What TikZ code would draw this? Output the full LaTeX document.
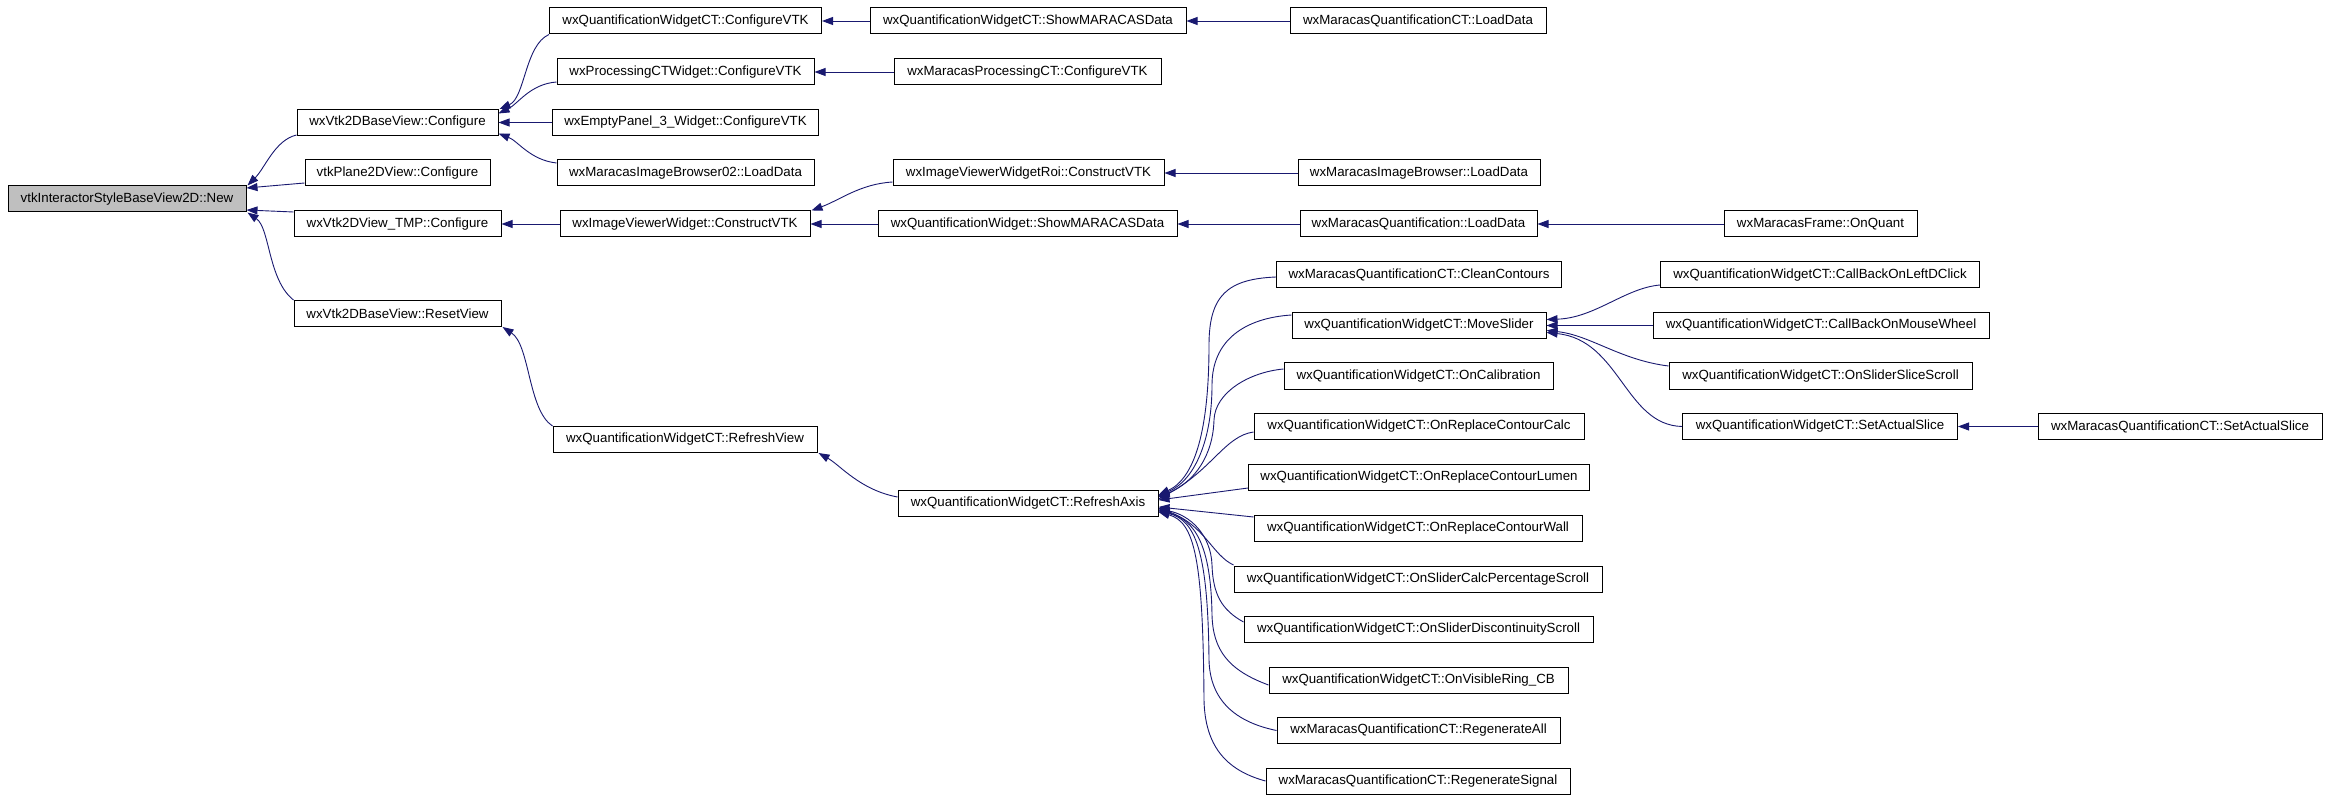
\documentclass[tikz,border=0pt]{standalone}
\usepackage{fontspec}
\setmainfont{Liberation Sans}
\usetikzlibrary{arrows.meta,calc}
\definecolor{edgeblue}{RGB}{25,25,112}
\definecolor{rootgray}{RGB}{191,191,191}
\begin{document}
\begin{tikzpicture}[x=1pt,y=-1pt,
  box/.style={draw=black, line width=1pt, inner sep=0pt, minimum height=26pt,
    font=\fontsize{13.3}{15}\selectfont},
  edge/.style={draw=edgeblue, line width=0.9pt, -{Triangle[length=11pt,width=8pt]}}]
\useasboundingbox (0,0) rectangle (2330,802);
% column 1
\node[box, minimum width=238pt, fill=rootgray] (new) at (127,199) {vtkInteractorStyleBaseView2D::New};
% column 2
\node[box, minimum width=201pt] (baseconf) at (397.5,122.5) {wxVtk2DBaseView::Configure};
\node[box, minimum width=185pt] (plane) at (397.5,173) {vtkPlane2DView::Configure};
\node[box, minimum width=207pt] (tmp) at (397.5,224) {wxVtk2DView\_TMP::Configure};
\node[box, minimum width=207pt] (reset) at (397.5,313.5) {wxVtk2DBaseView::ResetView};
% column 3
\node[box, minimum width=272pt] (qwctconf) at (685.5,21) {wxQuantificationWidgetCT::ConfigureVTK};
\node[box, minimum width=257pt] (procconf) at (685.5,72) {wxProcessingCTWidget::ConfigureVTK};
\node[box, minimum width=266pt] (empty) at (685.5,122.5) {wxEmptyPanel\_3\_Widget::ConfigureVTK};
\node[box, minimum width=257pt] (ib02) at (685.5,173) {wxMaracasImageBrowser02::LoadData};
\node[box, minimum width=250pt] (ivw) at (685,224) {wxImageViewerWidget::ConstructVTK};
\node[box, minimum width=264pt] (refview) at (685,439.5) {wxQuantificationWidgetCT::RefreshView};
% column 4
\node[box, minimum width=316pt] (qwctshow) at (1028,21) {wxQuantificationWidgetCT::ShowMARACASData};
\node[box, minimum width=267pt] (mproc) at (1027.5,72) {wxMaracasProcessingCT::ConfigureVTK};
\node[box, minimum width=271pt] (roi) at (1028.5,173) {wxImageViewerWidgetRoi::ConstructVTK};
\node[box, minimum width=299pt] (qwshow) at (1027.5,224) {wxQuantificationWidget::ShowMARACASData};
\node[box, minimum width=260pt] (refaxis) at (1028,503) {wxQuantificationWidgetCT::RefreshAxis};
% column 5
\node[box, minimum width=256pt] (mqctload) at (1418,21) {wxMaracasQuantificationCT::LoadData};
\node[box, minimum width=242pt] (mib) at (1419,173) {wxMaracasImageBrowser::LoadData};
\node[box, minimum width=237pt] (mqload) at (1418.5,224) {wxMaracasQuantification::LoadData};
\node[box, minimum width=285pt] (clean) at (1419,275) {wxMaracasQuantificationCT::CleanContours};
\node[box, minimum width=254pt] (move) at (1419,325.5) {wxQuantificationWidgetCT::MoveSlider};
\node[box, minimum width=269pt] (calib) at (1418.5,376) {wxQuantificationWidgetCT::OnCalibration};
\node[box, minimum width=330pt] (rcalc) at (1419,426.5) {wxQuantificationWidgetCT::OnReplaceContourCalc};
\node[box, minimum width=341pt] (rlumen) at (1419,477.5) {wxQuantificationWidgetCT::OnReplaceContourLumen};
\node[box, minimum width=328pt] (rwall) at (1418,528) {wxQuantificationWidgetCT::OnReplaceContourWall};
\node[box, minimum width=368pt] (calcperc) at (1418,579) {wxQuantificationWidgetCT::OnSliderCalcPercentageScroll};
\node[box, minimum width=349pt] (discont) at (1418.5,629.5) {wxQuantificationWidgetCT::OnSliderDiscontinuityScroll};
\node[box, minimum width=299pt] (visring) at (1418.5,680) {wxQuantificationWidgetCT::OnVisibleRing\_CB};
\node[box, minimum width=283pt] (regall) at (1418.5,730.5) {wxMaracasQuantificationCT::RegenerateAll};
\node[box, minimum width=304pt] (regsig) at (1418,781) {wxMaracasQuantificationCT::RegenerateSignal};
% column 6
\node[box, minimum width=193pt] (onquant) at (1820.5,224) {wxMaracasFrame::OnQuant};
\node[box, minimum width=319pt] (leftd) at (1820,275) {wxQuantificationWidgetCT::CallBackOnLeftDClick};
\node[box, minimum width=336pt] (wheel) at (1821,325.5) {wxQuantificationWidgetCT::CallBackOnMouseWheel};
\node[box, minimum width=303pt] (sscroll) at (1820.5,376) {wxQuantificationWidgetCT::OnSliderSliceScroll};
\node[box, minimum width=275pt] (setslice) at (1820,426.5) {wxQuantificationWidgetCT::SetActualSlice};
% column 7
\node[box, minimum width=284pt] (mqctset) at (2180,426.5) {wxMaracasQuantificationCT::SetActualSlice};

% straight edges
\draw[edge] (qwctshow.west) -- (qwctconf.east);
\draw[edge] (mqctload.west) -- (qwctshow.east);
\draw[edge] (mproc.west) -- (procconf.east);
\draw[edge] (empty.west) -- (baseconf.east);
\draw[edge] (ivw.west) -- (tmp.east);
\draw[edge] (qwshow.west) -- (ivw.east);
\draw[edge] (mqload.west) -- (qwshow.east);
\draw[edge] (onquant.west) -- (mqload.east);
\draw[edge] (mib.west) -- (roi.east);
\draw[edge] (wheel.west) -- (move.east);
\draw[edge] (mqctset.west) -- (setslice.east);

% into new
\draw[edge] ($(baseconf.south west)+(0,-1)$) .. controls (275,140) and (265,168) .. ($(new.north east)+(1,0)$);
\draw[edge] ($(plane.west)+(0,10)$) -- ($(new.east)+(0,-11)$);
\draw[edge] ($(tmp.west)+(0,-12)$) -- ($(new.east)+(0,11)$);
\draw[edge] (reset.north west) .. controls (268,280) and (270,228) .. ($(new.south east)+(1,0)$);
% into baseconf
\draw[edge] (qwctconf.south west) .. controls (525,45) and (525,98) .. ($(baseconf.north east)+(1,0)$);
\draw[edge] ($(procconf.west)+(0,10)$) .. controls (530,84) and (518,104) .. ($(baseconf.east)+(0,-9)$);
\draw[edge] ($(ib02.west)+(0,-10)$) .. controls (530,160) and (518,141) .. ($(baseconf.east)+(0,11)$);
% into ivw
\draw[edge] ($(roi.west)+(0,9)$) .. controls (860,184) and (840,200) .. ($(ivw.north east)+(1,0)$);
% reset chain
\draw[edge] (refview.north west) .. controls (528,410) and (530,345) .. ($(reset.south east)+(1,0)$);
\draw[edge] ($(refaxis.west)+(0,-6)$) .. controls (860,490) and (840,465) .. ($(refview.south east)+(1,0)$);
% into refaxis
\draw[edge] ($(clean.west)+(0,2)$) .. controls (1228,279) and (1209,295) .. (1209,345)
   .. controls (1209,430) and (1195,478) .. ($(refaxis.east)+(0,-8)$);
\draw[edge] ($(move.west)+(0,-10.5)$) .. controls (1245,318) and (1212,340) .. (1212,385)
   .. controls (1212,440) and (1195,480) .. ($(refaxis.east)+(0,-7)$);
\draw[edge] ($(calib.west)+(0,-7)$) .. controls (1250,372) and (1215,392) .. (1214,420)
   .. controls (1213,455) and (1195,482) .. ($(refaxis.east)+(0,-6)$);
\draw[edge] ($(rcalc.west)+(0,5.5)$) .. controls (1225,436) and (1212,470) .. ($(refaxis.east)+(0,-4)$);
\draw[edge] ($(rlumen.west)+(0,10.5)$) -- ($(refaxis.east)+(0,-3)$);
\draw[edge] ($(rwall.west)+(0,-11)$) -- ($(refaxis.east)+(0,4)$);
\draw[edge] ($(calcperc.west)+(0,-14)$) .. controls (1212,555) and (1205,525) .. ($(refaxis.east)+(0,5)$);
\draw[edge] ($(discont.west)+(0,-7.5)$) .. controls (1222,610) and (1213,595) .. (1212,565)
   .. controls (1211,535) and (1190,515) .. ($(refaxis.east)+(0,6)$);
\draw[edge] ($(visring.west)+(0,5)$) .. controls (1228,670) and (1213,650) .. (1212,615)
   .. controls (1211,545) and (1195,520) .. ($(refaxis.east)+(0,7)$);
\draw[edge] (regall.west) .. controls (1235,722) and (1210,700) .. (1209,660)
   .. controls (1208,550) and (1195,520) .. ($(refaxis.east)+(0,8)$);
\draw[edge] (regsig.west) .. controls (1225,770) and (1205,745) .. (1204,700)
   .. controls (1203,560) and (1195,522) .. ($(refaxis.east)+(0,9)$);
% into move
\draw[edge] ($(leftd.west)+(0,10)$) .. controls (1625,288) and (1595,318) .. ($(move.east)+(0,-6)$);
\draw[edge] ($(sscroll.west)+(0,-10)$) .. controls (1620,360) and (1590,335) .. ($(move.east)+(0,5)$);
\draw[edge] (setslice.west) .. controls (1625,425) and (1620,340) .. ($(move.east)+(0,7)$);
\end{tikzpicture}
\end{document}
